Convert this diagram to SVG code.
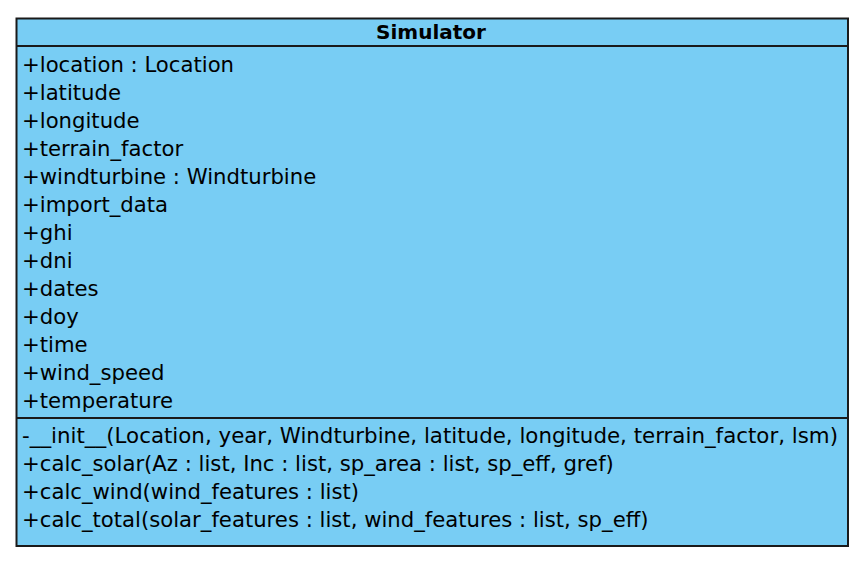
<svg xmlns="http://www.w3.org/2000/svg" width="868" height="568" viewBox="0 0 868 568">
<style>
.box{fill:#78cdf4;stroke:#1a1a1a;stroke-width:2}
.div{stroke:#1a1a1a;stroke-width:2}
.t{font-family:"DejaVu Sans",sans-serif;font-size:21.2px;fill:#000}
.title{font-family:"DejaVu Sans",sans-serif;font-size:20px;font-weight:bold;fill:#000}
</style>
<rect width="868" height="568" fill="#fff"/>
<g id="Simulator">
<rect class="box" x="16.5" y="18.5" width="831.5" height="527.5"/>
<line class="div" x1="16.5" y1="46" x2="848" y2="46"/>
<line class="div" x1="16.5" y1="418" x2="848" y2="418"/>
<text class="title" x="431" y="39" text-anchor="middle">Simulator</text>
<text class="t" x="22" y="72">+location : Location</text>
<text class="t" x="22" y="100">+latitude</text>
<text class="t" x="22" y="128">+longitude</text>
<text class="t" x="22" y="156">+terrain_factor</text>
<text class="t" x="22" y="184">+windturbine : Windturbine</text>
<text class="t" x="22" y="212">+import_data</text>
<text class="t" x="22" y="240">+ghi</text>
<text class="t" x="22" y="268">+dni</text>
<text class="t" x="22" y="296">+dates</text>
<text class="t" x="22" y="324">+doy</text>
<text class="t" x="22" y="352">+time</text>
<text class="t" x="22" y="380">+wind_speed</text>
<text class="t" x="22" y="408">+temperature</text>
<text class="t" x="22" y="443" textLength="816" lengthAdjust="spacingAndGlyphs">-__init__(Location, year, Windturbine, latitude, longitude, terrain_factor, lsm)</text>
<text class="t" x="22" y="471">+calc_solar(Az : list, Inc : list, sp_area : list, sp_eff, gref)</text>
<text class="t" x="22" y="499">+calc_wind(wind_features : list)</text>
<text class="t" x="22" y="527">+calc_total(solar_features : list, wind_features : list, sp_eff)</text>
</g>
<g id="connectors"/>
</svg>
